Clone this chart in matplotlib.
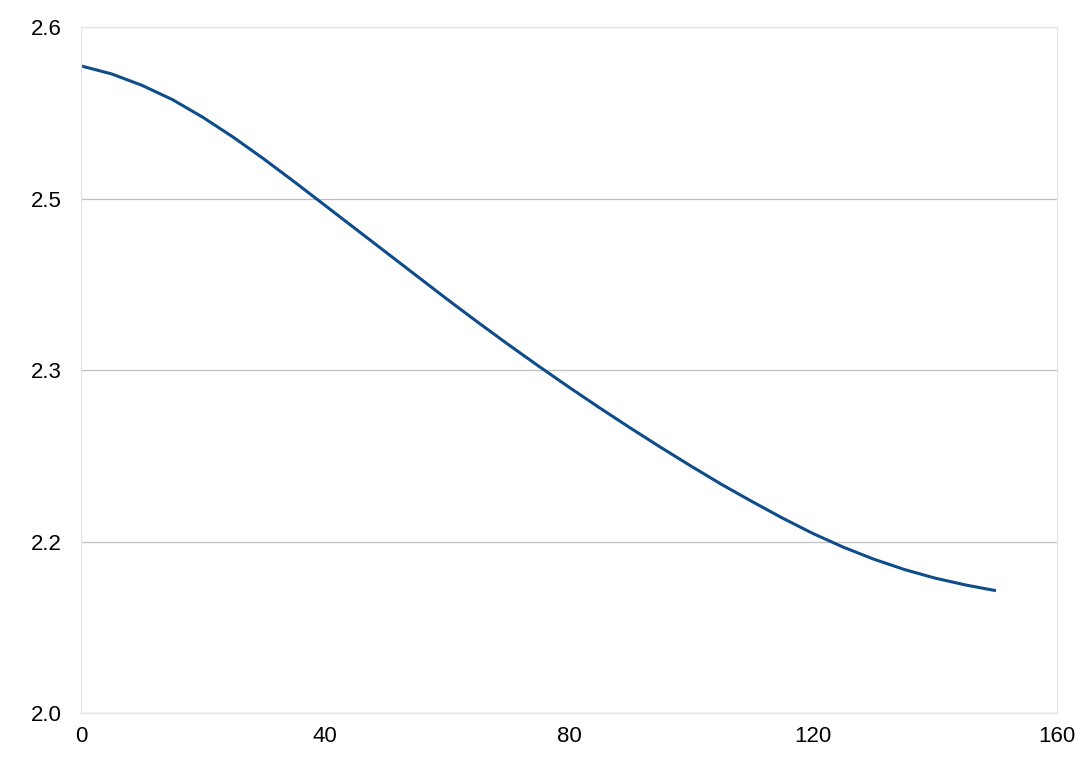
import numpy as np
import matplotlib.pyplot as plt

plt.rcParams['font.family'] = ['Liberation Sans', 'DejaVu Sans']

# curve
x_vals = [0, 5, 10, 15, 20, 25, 30, 35, 40, 45, 50, 55, 60, 65, 70, 75,
          80, 85, 90, 95, 100, 105, 110, 115, 120, 125, 130, 135, 140, 145, 150]
y_vals = [2.566, 2.559, 2.549, 2.5365, 2.521, 2.5035, 2.4845, 2.4645, 2.444, 2.4235,
          2.403, 2.3825, 2.362, 2.342, 2.3225, 2.3035, 2.285, 2.267, 2.2495, 2.2325,
          2.216, 2.200, 2.185, 2.1705, 2.157, 2.145, 2.1345, 2.1255, 2.118, 2.112, 2.107]

y_ticks = [2.0, 2.15, 2.3, 2.45, 2.6]
y_labels = ['2.0', '2.2', '2.3', '2.5', '2.6']
x_ticks = [0, 40, 80, 120, 160]

fig = plt.figure(figsize=(10.9, 7.72), dpi=100)
ax = fig.add_axes([0.0743, 0.0764, 0.8954, 0.8886])

ax.plot(x_vals, y_vals, color='#0f4c8a', lw=2.2, solid_capstyle='butt')

ax.set_xlim(0, 160)
ax.set_ylim(2.0, 2.6)
ax.set_yticks(y_ticks)
ax.set_yticklabels(y_labels)
ax.set_xticks(x_ticks)

ax.grid(axis='y', color='#bfbfbf', lw=0.9)
for s in ax.spines.values():
    s.set_color('#e6e6e6')
    s.set_linewidth(0.9)
ax.tick_params(axis='both', labelsize=16, length=0, colors='black')
ax.tick_params(axis='y', pad=13.5)
ax.tick_params(axis='x', pad=9.5)

fig.savefig('out.png', dpi=100)
